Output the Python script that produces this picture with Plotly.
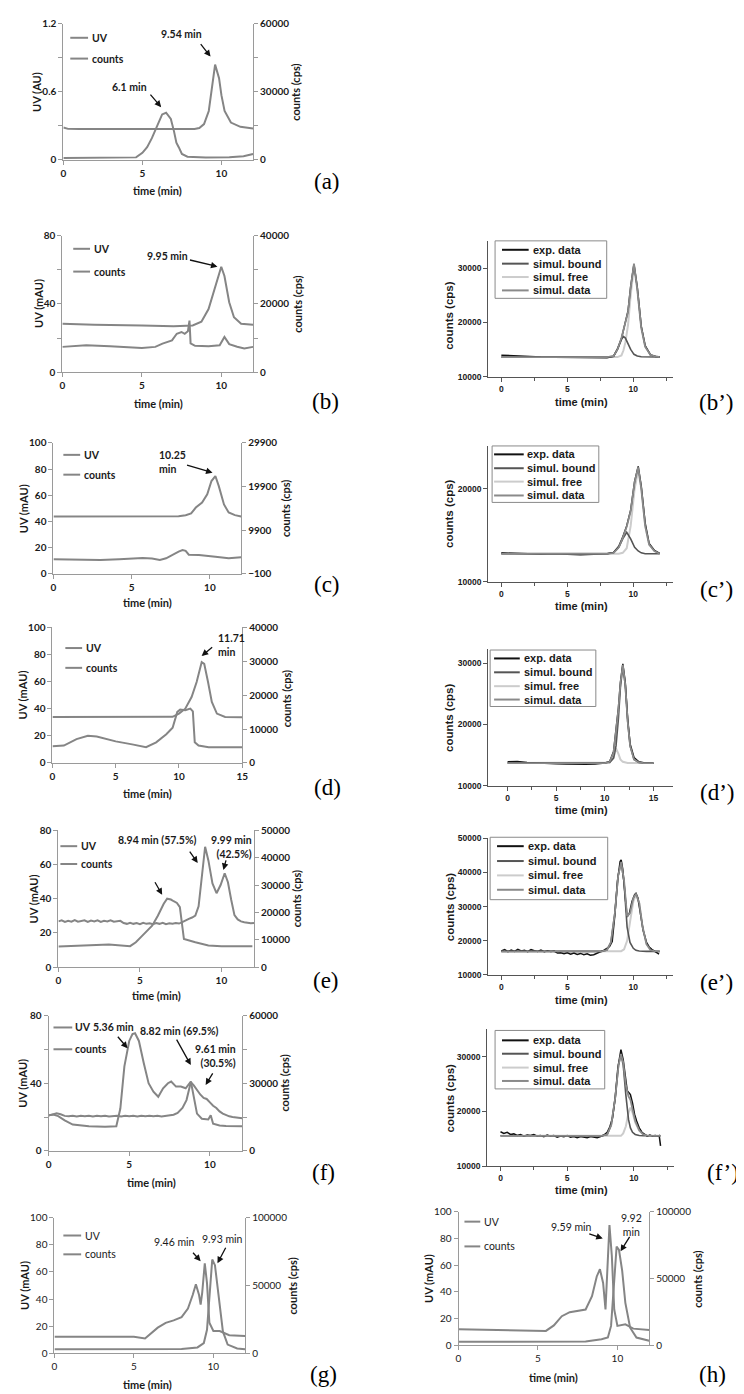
import plotly.graph_objects as go

W, H = 744, 1394
SANS = "Lato"
ARIAL = "Liberation Sans"
SERIF = "Liberation Serif"
GRAY = "#858585"
AX = "#9a9a9a"
AX2 = "#555555"
TXT = "#1a1a1a"

# ===================== DATA =====================
# (a)  UV in AU, counts in cps
a_uv_t = [0, 2, 4, 4.6, 5.0, 5.3, 5.6, 5.95, 6.25, 6.5, 6.8, 7.0, 7.15, 7.3, 7.5, 7.85, 9, 10.5, 11.4, 12]
a_uv = [0.015, 0.015, 0.015, 0.02, 0.06, 0.11, 0.19, 0.31, 0.40, 0.415, 0.36, 0.25, 0.15, 0.11, 0.05, 0.026, 0.02, 0.022, 0.03, 0.05]
a_cnt_t = [0, 0.3, 1, 4, 7, 8.3, 8.6, 8.9, 9.2, 9.4, 9.6, 9.85, 10.0, 10.2, 10.6, 11.2, 12]
a_cnt = [14200, 13600, 13500, 13400, 13400, 13500, 14000, 15700, 21500, 33000, 42000, 36000, 28500, 21500, 16400, 14500, 13800]

# (b)
b_uv_t = [0, 1.5, 3, 5, 5.85, 6.3, 6.9, 7.2, 7.5, 7.7, 7.9, 8.0, 8.07, 8.35, 9.2, 9.9, 10.2, 10.5, 11.0, 11.45, 12]
b_uv = [14.9, 15.8, 15.2, 14.3, 14.9, 16.8, 18.7, 22.6, 23.6, 22.5, 24, 30.3, 17, 15.5, 15.3, 15.8, 20.7, 16.5, 15, 14, 14.9]
b_cnt_t = [0, 2, 5, 7, 8.2, 8.75, 9.2, 9.5, 9.8, 10.0, 10.2, 10.5, 10.8, 11.25, 12]
b_cnt = [14200, 13900, 13700, 13500, 13700, 14800, 18500, 23400, 28200, 30900, 28200, 20500, 16100, 14200, 13900]

# (b')
bp_t = [0, 1, 2, 3, 4, 5, 6, 7, 8, 8.5, 8.8, 9.1, 9.25, 9.4, 9.6, 9.8, 10.05, 10.3, 10.6, 10.9, 11.3, 11.7, 12]
bp_bound = [13600, 13600, 13600, 13600, 13600, 13600, 13600, 13600, 13600, 13750, 15000, 16800, 17400, 17100, 16000, 15000, 14100, 13800, 13650, 13600, 13600, 13600, 13600]
bp_free = [13600, 13600, 13600, 13600, 13600, 13600, 13600, 13600, 13600, 13600, 13600, 13900, 14800, 16300, 19500, 25000, 30300, 26000, 19000, 15500, 14000, 13700, 13600]
bp_sim = [13600, 13600, 13600, 13600, 13600, 13600, 13600, 13600, 13600, 13750, 15000, 17100, 18600, 19800, 21900, 26400, 30800, 26200, 19050, 15500, 14000, 13700, 13600]
bp_exp = [13950, 13800, 13650, 13600, 13550, 13500, 13450, 13400, 13450, 13750, 15100, 17000, 18700, 19900, 22100, 26600, 30700, 26500, 19300, 15700, 14000, 13700, 13600]

# (c)
c_uv_t = [0, 1, 2, 3, 4.2, 5, 5.7, 6.3, 6.8, 7.2, 7.6, 8.0, 8.25, 8.45, 8.65, 9.3, 10.35, 11.2, 12]
c_uv = [11.1, 10.8, 10.6, 10.6, 11.1, 11.5, 12.0, 11.6, 10.6, 11.8, 14.6, 16.9, 18.1, 17.5, 14.6, 14.4, 13.0, 11.8, 12.6]
c_cnt_t = [0, 3, 6, 8.0, 8.45, 8.8, 9.1, 9.5, 9.83, 10.1, 10.35, 10.57, 10.9, 11.2, 11.6, 12]
c_cnt = [13040, 13000, 13000, 13100, 13340, 13730, 15080, 16220, 18140, 21170, 22310, 20000, 15800, 13940, 13340, 13040]

# (c')
cp_t = [0, 1, 2, 3, 4, 5, 6, 7, 8, 8.5, 8.9, 9.2, 9.5, 9.8, 10.1, 10.37, 10.6, 10.9, 11.2, 11.6, 12]
cp_bound = [13000, 13000, 13000, 13000, 13000, 13000, 13000, 13000, 13000, 13100, 13700, 14600, 15300, 14600, 13700, 13300, 13100, 13000, 13000, 13000, 13000]
cp_free = [13000, 13000, 13000, 13000, 13000, 13000, 13000, 13000, 13000, 13000, 13000, 13100, 13600, 16000, 20000, 22000, 20000, 16000, 14000, 13300, 13000]
cp_sim = [13000, 13000, 13000, 13000, 13000, 13000, 13000, 13000, 13000, 13100, 13700, 14700, 15900, 17600, 20700, 22300, 20100, 16000, 14000, 13300, 13000]
cp_exp = [13100, 13050, 13000, 12950, 13000, 12950, 12900, 12950, 13000, 13150, 13800, 14800, 16000, 17700, 20800, 22400, 20300, 16300, 14100, 13350, 13050]

# (d)
d_uv_t = [0, 0.9, 1.9, 2.8, 3.5, 5, 6.3, 7.4, 8.2, 9.0, 9.5, 9.87, 10.1, 10.5, 10.9, 11.1, 11.25, 11.55, 12.35, 15]
d_uv = [12.3, 12.8, 17.6, 20, 19.5, 15.9, 13.7, 11.6, 15.2, 21.2, 26, 37.6, 39.3, 38.8, 40, 38, 15.2, 12.8, 11.6, 11.6]
d_cnt_t = [0, 3, 7.1, 9.5, 10, 10.5, 11, 11.4, 11.8, 12, 12.3, 12.6, 13, 13.65, 15]
d_cnt = [13560, 13600, 13500, 13600, 14560, 16000, 19440, 23840, 29720, 29200, 23840, 18000, 14560, 13560, 13500]

# (d')
dp_t = [0, 1, 2, 3, 4, 5, 6, 7, 8, 9, 10, 10.5, 10.9, 11.15, 11.4, 11.6, 11.85, 12.1, 12.35, 12.6, 13, 13.5, 14, 15]
dp_bound = [13700, 13700, 13700, 13700, 13700, 13700, 13700, 13700, 13700, 13700, 13700, 13800, 14500, 16500, 21000, 26000, 29500, 26500, 20500, 16500, 14300, 13800, 13700, 13700]
dp_free = [13700, 13700, 13700, 13700, 13700, 13700, 13700, 13700, 13700, 13700, 13700, 13800, 14600, 16100, 15200, 14300, 13900, 13750, 13700, 13700, 13700, 13700, 13700, 13700]
dp_sim = [13700, 13700, 13700, 13700, 13700, 13700, 13700, 13700, 13700, 13700, 13700, 13900, 15400, 18900, 22500, 26600, 29700, 26550, 20500, 16500, 14300, 13800, 13700, 13700]
dp_exp = [13900, 13950, 13800, 13700, 13650, 13600, 13550, 13500, 13500, 13550, 13700, 13950, 15600, 19200, 22700, 26800, 29900, 26900, 20900, 16800, 14600, 13900, 13750, 13650]

# (e)
e_uv_t = [0, 1.5, 3.1, 4.4, 4.75, 5.15, 5.75, 6.1, 6.46, 6.67, 6.9, 7.07, 7.27, 7.45, 7.6, 7.7, 8.4, 9.2, 10, 11.9]
e_uv = [12, 12.5, 13.2, 12.2, 14.5, 18.4, 24.2, 30, 37, 40, 39.5, 38.5, 37.5, 35, 22, 16.4, 14.5, 12.6, 12.2, 12.2]
e_cnt_t = [0, 0.2, 0.4, 0.6, 0.8, 1.0, 1.2, 1.4, 1.6, 1.8, 2.0, 2.2, 2.4, 2.6, 2.8, 3.0, 3.2, 3.4, 3.6, 3.8,
           4.0, 4.2, 4.4, 4.6, 4.8, 5.0, 5.2, 5.4, 5.6, 5.8, 6.0, 6.2, 6.4, 6.6, 6.8, 7.0, 7.2, 7.4, 7.6,
           7.8, 8.0, 8.2, 8.4, 8.6, 8.8, 9.0, 9.2, 9.45, 9.7, 9.95, 10.2, 10.4, 10.6, 10.8, 11.0, 11.2, 11.4, 11.6, 11.8, 12.0]
e_cnt = [16700, 17100, 16500, 16900, 16600, 17200, 16600, 16900, 17100, 16500, 17000, 16700, 17100, 16500, 16900, 16700, 17100, 16600, 16800, 16900,
         16100, 15800, 16200, 15800, 16100, 15700, 16200, 15800, 16000, 15700, 16100, 15800, 16200, 15700, 16000, 15800, 16100, 15900, 16400,
         17100, 17600, 18100, 18800, 22200, 33000, 44000, 39000, 30600, 27000, 30000, 34300, 31000, 24600, 19000, 17400, 16700, 16400, 16200, 16000, 16100]

# (e')
ep_t = [0, 1, 2, 3, 4, 5, 6, 7, 7.6, 8.0, 8.3, 8.6, 8.85, 9.08, 9.3, 9.53, 9.75, 10.0, 10.2, 10.45, 10.7, 11.0, 11.3, 11.6, 12]
ep_bound = [16900, 16900, 16900, 16900, 16900, 16900, 16900, 16900, 16900, 17300, 19500, 28000, 39000, 43000, 37000, 24000, 19500, 17800, 17200, 17000, 16900, 16900, 16900, 16900, 16900]
ep_free = [16900, 16900, 16900, 16900, 16900, 16900, 16900, 16900, 16900, 16900, 16900, 16900, 16900, 16950, 17500, 20000, 25500, 31500, 33500, 31000, 24100, 19000, 17300, 16950, 16900]
ep_sim = [16900, 16900, 16900, 16900, 16900, 16900, 16900, 16900, 16900, 17300, 19500, 28000, 39000, 43050, 37600, 27100, 28100, 32400, 33800, 31100, 24100, 19000, 17300, 16950, 16900]
ep_exp_t = [0, 0.25, 0.5, 0.75, 1.0, 1.25, 1.5, 1.75, 2.0, 2.25, 2.5, 2.75, 3.0, 3.25, 3.5, 3.75, 4.0, 4.25, 4.5, 4.75,
            5.0, 5.25, 5.5, 5.75, 6.0, 6.25, 6.5, 6.75, 7.0, 7.25, 7.5,
            7.75, 8.0, 8.2, 8.4, 8.6, 8.8, 9.0, 9.08, 9.2, 9.35, 9.53, 9.7, 9.9, 10.1, 10.2, 10.35, 10.55, 10.75, 11.0, 11.2, 11.4, 11.6, 11.8, 11.95]
ep_exp = [17000, 17400, 16800, 17300, 16900, 17500, 17000, 17200, 16800, 17400, 17100, 16900, 17300, 16800, 17100, 16900, 17000, 16400, 16500, 16200,
          16500, 16100, 16400, 16000, 16300, 15900, 16200, 15800, 15900, 16300, 16600,
          17200, 17800, 18300, 19800, 27500, 37500, 43200, 43700, 41000, 34500, 27000, 28000, 31500, 33500, 33900, 32500, 28000, 23000, 19500, 18200, 17500, 17000, 16300, 16100]

# (f)
f_uv_t = [0, 0.3, 0.6, 1.0, 1.5, 2.5, 3.5, 4.2, 4.45, 4.7, 5.0, 5.2, 5.36, 5.6, 5.9, 6.2, 6.5, 6.8, 7.1, 7.4, 7.6, 7.9, 8.2, 8.5, 8.82, 9.0, 9.2, 9.5, 9.9, 10.05, 10.2, 10.6, 11, 12]
f_uv = [21, 21.5, 20.5, 18, 15.5, 14.5, 14.3, 14.5, 25, 50, 65, 69, 69.5, 65, 52, 40, 35, 32, 37, 40, 41, 38, 38, 37, 41, 33, 22, 19, 18.5, 21, 16, 15, 14.7, 14.5]
f_cnt_t = [0, 0.25, 0.5, 0.75, 1.0, 1.25, 1.5, 1.75, 2.0, 2.25, 2.5, 2.75, 3.0, 3.25, 3.5, 3.75, 4.0, 4.25, 4.5, 4.75,
           5.0, 5.25, 5.5, 5.75, 6.0, 6.25, 6.5, 6.75, 7.0, 7.25, 7.5,
           7.75, 8.0, 8.3, 8.55, 8.7, 8.82, 9.0, 9.2, 9.4, 9.61, 9.8, 10.0, 10.2, 10.4, 10.6, 10.8, 11.0, 11.2, 11.4, 11.6, 11.8, 12.0]
f_cnt = [15600, 16000, 16600, 16200, 15500, 15300, 15600, 15200, 15500, 15300, 15600, 15200, 15500, 15300, 15600, 15200, 15400, 15600, 15200, 15500,
         15300, 15600, 15200, 15500, 15300, 15600, 15300, 15500, 15200, 15500, 15600,
         16000, 16800, 19000, 22500, 26500, 30500, 29000, 27000, 25000, 23500, 23000, 21500, 20000, 19000, 17500, 16500, 15800, 15300, 15000, 14800, 14600, 14400]

# (f')
fp_t = [0, 1, 2, 3, 4, 5, 6, 7, 7.6, 8.0, 8.3, 8.6, 8.85, 9.03, 9.2, 9.4, 9.6, 9.74, 9.9, 10.1, 10.4, 10.7, 11, 11.5, 12]
fp_bound = [15550, 15550, 15550, 15550, 15550, 15550, 15550, 15550, 15550, 15800, 17500, 22500, 28500, 30500, 28500, 23000, 18500, 17000, 16200, 15800, 15600, 15550, 15550, 15550, 15550]
fp_free = [15550, 15550, 15550, 15550, 15550, 15550, 15550, 15550, 15550, 15550, 15550, 15550, 15550, 15550, 16000, 17300, 19800, 20700, 19800, 18000, 16500, 15800, 15600, 15550, 15550]
fp_sim = [15550, 15550, 15550, 15550, 15550, 15550, 15550, 15550, 15550, 15800, 17500, 22500, 28500, 30500, 28950, 24750, 22750, 22150, 20450, 18250, 16550, 15800, 15600, 15550, 15550]
fp_exp_t = [0, 0.25, 0.5, 0.75, 1.0, 1.25, 1.5, 1.75, 2.0, 2.25, 2.5, 2.75, 3.0, 3.25, 3.5, 3.75, 4.0, 4.25, 4.5, 4.75,
            5.0, 5.25, 5.5, 5.75, 6.0, 6.25, 6.5, 6.75, 7.0, 7.25, 7.5, 7.75,
            8.0, 8.2, 8.4, 8.6, 8.8, 9.03, 9.2, 9.35, 9.5, 9.6, 9.74, 9.9, 10.05, 10.2, 10.4, 10.6, 10.8, 11.0, 11.2, 11.4, 11.6, 11.8, 11.9, 11.95, 12.0]
fp_exp = [16300, 16000, 16200, 15800, 15900, 15600, 15800, 15500, 15700, 15600, 15800, 15500, 15600, 15400, 15700, 15500, 15600, 15300, 15500, 15400,
          15600, 15300, 15400, 15200, 15400, 15300, 15200, 15400, 15300, 15200, 15400, 15700,
          16200, 17200, 18800, 22500, 28000, 31300, 29500, 26000, 23800, 23500, 23100, 21500, 19500, 18300, 17000, 16200, 15800, 15500, 15700, 15500, 15600, 15500, 15600, 14500, 13700]

# (g)
g_uv_t = [0, 5, 5.7, 6.0, 6.5, 7, 7.5, 8, 8.4, 8.7, 8.9, 9.1, 9.2, 9.3, 9.46, 9.6, 9.75, 10, 10.4, 11, 12]
g_uv = [12.2, 12.2, 11, 14, 19, 22.5, 24.3, 26.7, 33, 43, 50.9, 43, 36, 45, 66.4, 51.8, 22.6, 16.5, 16.5, 13.4, 12.9]
g_cnt_t = [0, 5, 8, 9.0, 9.4, 9.6, 9.75, 9.93, 10.1, 10.35, 10.6, 10.9, 11.5, 12]
g_cnt = [3100, 3100, 3300, 4400, 7600, 17400, 41800, 69200, 65000, 41800, 16200, 6500, 3600, 3100]

# (h)
h_uv_t = [0, 5.5, 6, 6.5, 7, 7.5, 8, 8.4, 8.7, 8.9, 9.1, 9.25, 9.35, 9.5, 9.65, 9.8, 10, 10.5, 11, 12]
h_uv = [12.1, 10.9, 15, 21.9, 24.9, 25.7, 26.9, 36.8, 51.6, 57, 46.7, 26.9, 50, 90, 66.7, 26.9, 14.6, 15.8, 12.6, 11.6]
h_cnt_t = [0, 8, 9, 9.4, 9.6, 9.8, 9.95, 10.1, 10.3, 10.5, 10.8, 11.2, 12]
h_cnt = [2700, 3000, 4600, 6000, 14600, 46700, 73900, 71400, 56000, 31900, 13300, 5900, 3500]

legend_left = ["UV", "counts"]
legend_right = ["exp. data", "simul. bound", "simul. free", "simul. data"]

# ===================== LAYOUT HELPERS =====================
fig = go.Figure()
layout = {}
annotations = []
shapes = []


def aid(p, i):
    return p if i == 1 else f"{p}{i}"


def lkey(p, i):
    return f"{p}axis" if i == 1 else f"{p}axis{i}"


def xdom(x0, x1):
    return [x0 / W, x1 / W]


def ydom(y0, y1):
    return [1 - y1 / H, 1 - y0 / H]


def px(x, y):
    return x / W, 1 - y / H


def txt(s, x, y, size=10.5, bold=True, family=SANS, xanchor="center", align="center", angle=0, color=TXT):
    X, Y = px(x, y)
    annotations.append(dict(text=s, x=X, y=Y, xref="paper", yref="paper", showarrow=False,
                            xanchor=xanchor, yanchor="middle", align=align, textangle=angle,
                            font=dict(family=family, size=size, color=color,
                                      weight="bold" if bold else "normal")))


def arrow(xt, yt, xh, yh):
    X, Y = px(xh, yh)
    annotations.append(dict(text="", x=X, y=Y, xref="paper", yref="paper", ax=xt - xh, ay=yt - yh,
                            axref="pixel", ayref="pixel", showarrow=True, arrowhead=2, arrowsize=1,
                            arrowwidth=1.3, arrowcolor="#111", standoff=0))


def hline(x0, x1, y, color, width):
    X0, Y = px(x0, y)
    X1, _ = px(x1, y)
    shapes.append(dict(type="line", xref="paper", yref="paper", x0=X0, x1=X1, y0=Y, y1=Y,
                       line=dict(color=color, width=width)))


def left_panel(k, box, xr, yr, yd, ym, y2r, y2d, y2m, uv_t, uv, cnt_t, cnt, y2t0=0, bold=True):
    xi = k + 1
    yl = 2 * k + 1
    yr_i = 2 * k + 2
    x0, x1, y0, y1 = box
    tf = dict(family=SANS, size=10, color=TXT, weight="bold" if bold else "normal")
    common = dict(showline=True, linecolor=AX, linewidth=1, ticks="outside", ticklen=4, tickcolor=AX,
                  showgrid=False, zeroline=False, tickfont=tf)
    layout[lkey("x", xi)] = dict(domain=xdom(x0, x1), range=xr, anchor=aid("y", yl), dtick=5, tick0=0, **common)
    ya = dict(domain=ydom(y0, y1), range=yr, anchor=aid("x", xi), dtick=yd, tick0=0, **common)
    if ym:
        ya["minor"] = dict(dtick=ym, ticks="outside", ticklen=4, tickcolor=AX, showgrid=False)
    layout[lkey("y", yl)] = ya
    yb = dict(range=y2r, anchor=aid("x", xi), overlaying=aid("y", yl), side="right", dtick=y2d, tick0=y2t0,
              tickformat="d", **common)
    if y2m:
        yb["minor"] = dict(dtick=y2m, ticks="outside", ticklen=4, tickcolor=AX, showgrid=False)
    layout[lkey("y", yr_i)] = yb
    fig.add_trace(go.Scatter(x=uv_t, y=uv, name=legend_left[0], mode="lines", showlegend=False,
                             line=dict(color=GRAY, width=2), xaxis=aid("x", xi), yaxis=aid("y", yl)))
    fig.add_trace(go.Scatter(x=cnt_t, y=cnt, name=legend_left[1], mode="lines", showlegend=False,
                             line=dict(color=GRAY, width=2), xaxis=aid("x", xi), yaxis=aid("y", yr_i)))


RCOL = {"exp. data": "#111111", "simul. bound": "#555555", "simul. free": "#cccccc", "simul. data": "#8a8a8a"}
RW = {"exp. data": 1.5, "simul. bound": 1.6, "simul. free": 2, "simul. data": 1.8}


def right_panel(j, box, xr, yr, t, bound, free, sim, exp_t, exp):
    xi = 9 + j
    yi = 17 + j
    x0, x1, y0, y1 = box
    tf = dict(family=ARIAL, size=8.5, color=TXT, weight="bold")
    common = dict(showline=True, linecolor=AX2, linewidth=1, ticks="outside", ticklen=4, tickcolor=AX2,
                  showgrid=False, zeroline=False, tickfont=tf)
    layout[lkey("x", xi)] = dict(domain=xdom(x0, x1), range=xr, anchor=aid("y", yi), dtick=5, tick0=0,
                                 minor=dict(dtick=2.5, ticks="outside", ticklen=3, tickcolor=AX2, showgrid=False),
                                 **common)
    layout[lkey("y", yi)] = dict(domain=ydom(y0, y1), range=yr, anchor=aid("x", xi), dtick=10000, tick0=0,
                                 tickformat="d", **common)
    for name, xs, ys in [("simul. free", t, free), ("simul. bound", t, bound),
                         ("exp. data", exp_t, exp), ("simul. data", t, sim)]:
        fig.add_trace(go.Scatter(x=xs, y=ys, name=name, mode="lines", showlegend=False,
                                 line=dict(color=RCOL[name], width=RW[name]),
                                 xaxis=aid("x", xi), yaxis=aid("y", yi)))


def left_legend(x0, x1, ys, xt, size=10.5, bold=True):
    for y, lab in zip(ys, legend_left):
        hline(x0, x1, y, GRAY, 2)
        txt(lab, xt, y, size=size, bold=bold, xanchor="left")


def right_legend(bx0, bx1, by0, by1, lx0, lx1, ys, xt):
    X0, Y0 = px(bx0, by0)
    X1, Y1 = px(bx1, by1)
    shapes.append(dict(type="rect", xref="paper", yref="paper", x0=X0, x1=X1, y0=Y1, y1=Y0,
                       line=dict(color="#8a8a8a", width=1), fillcolor="rgba(255,255,255,0)"))
    for y, lab in zip(ys, legend_right):
        hline(lx0, lx1, y, RCOL[lab], 2)
        txt(lab, xt, y, size=11, family=ARIAL, xanchor="left")


# ===================== PANELS =====================
left_panel(0, (53, 245, 9, 146), [0, 12], [0, 1.2], 0.6, 0.3, [0, 60000], 30000, 15000, a_uv_t, a_uv, a_cnt_t, a_cnt)
left_panel(1, (52, 245, 222.7, 360.7), [0, 12], [0, 80], 40, 20, [0, 40000], 20000, 10000, b_uv_t, b_uv, b_cnt_t, b_cnt)
left_panel(2, (43, 233, 432, 564), [0, 12], [0, 100], 20, None, [-100, 29900], 10000, None, c_uv_t, c_uv, c_cnt_t, c_cnt, y2t0=-100)
left_panel(3, (42, 234, 618, 755), [0, 15], [0, 100], 20, None, [0, 40000], 10000, None, d_uv_t, d_uv, d_cnt_t, d_cnt)
left_panel(4, (48, 246, 823, 961), [0, 12], [0, 80], 20, None, [0, 50000], 10000, None, e_uv_t, e_uv, e_cnt_t, e_cnt)
left_panel(5, (38, 234, 1010, 1146.5), [0, 12], [0, 80], 40, 20, [0, 60000], 30000, 15000, f_uv_t, f_uv, f_cnt_t, f_cnt)
left_panel(6, (44, 237, 1214, 1351), [0, 12], [0, 100], 20, None, [0, 100000], 50000, None, g_uv_t, g_uv, g_cnt_t, g_cnt, bold=False)
left_panel(7, (453, 646, 1208, 1343), [0, 12], [0, 100], 20, None, [0, 100000], 50000, None, h_uv_t, h_uv, h_cnt_t, h_cnt, bold=False)

right_panel(0, (483, 670, 228, 365), [-1, 13], [10000, 35000], bp_t, bp_bound, bp_free, bp_sim, bp_t, bp_exp)
right_panel(1, (483, 670, 435, 572), [-1, 13], [10000, 24600], cp_t, cp_bound, cp_free, cp_sim, cp_t, cp_exp)
right_panel(2, (483, 670, 640, 778), [-2, 17], [10000, 32300], dp_t, dp_bound, dp_free, dp_sim, dp_t, dp_exp)
right_panel(3, (483, 670, 831, 969), [-1, 13], [10000, 50000], ep_t, ep_bound, ep_free, ep_sim, ep_exp_t, ep_exp)
right_panel(4, (482, 671, 1024, 1162), [-1, 13], [10000, 35000], fp_t, fp_bound, fp_free, fp_sim, fp_exp_t, fp_exp)

# legends
left_legend(60, 78, [23, 44], 80)
left_legend(63, 80, [236, 259], 82)
left_legend(53, 70, [444, 464], 72)
left_legend(55, 72, [639, 659], 74)
left_legend(50, 67, [839, 857], 69)
left_legend(43, 62, [1022, 1044], 63)
left_legend(53, 71, [1232, 1251], 73, bold=False)
left_legend(459, 475, [1218, 1243], 477, bold=False)

right_legend(490, 603, 228, 286, 497, 524, [237, 251, 264.5, 278], 526)
right_legend(487, 595, 435, 492, 489, 519, [443.5, 457.5, 471, 485], 520)
right_legend(485, 592, 641, 698, 489, 515, [649.5, 663.5, 677.5, 691], 517)
right_legend(485, 604, 830, 893, 492, 519, [839, 854, 868.5, 883], 521)
right_legend(490, 601, 1025, 1084, 497, 524, [1035, 1048.5, 1062.5, 1076], 526)

# axis titles (left panels)
for s, x, y in [("UV (AU)", 26, 78), ("UV (mAU)", 28, 291), ("UV (mAU)", 13, 498), ("UV (mAU)", 12, 686),
                ("UV (mAU)", 23, 892), ("UV (mAU)", 12, 1078), ("UV (mAU)", 13, 1282), ("UV (mAU)", 422, 1275)]:
    txt(s, x, y, size=11, angle=-90)
for x, y in [(288, 78), (290, 292), (278, 498), (279, 690), (289, 892), (277, 1078), (284, 1283), (694, 1276)]:
    txt("counts (cps)", x, y, size=11, angle=-90)
for x, y in [(148, 177), (149, 392), (138, 593), (138, 786), (147, 990), (142, 1178), (138, 1382), (549, 1375)]:
    txt("time (min)", x, y, size=11)
# axis titles (right panels)
for y in [303, 503, 709, 900, 1093]:
    txt("counts (cps)", 444, y, size=11.5, family=ARIAL, angle=-90)
for y in [391, 597, 802, 994, 1186]:
    txt("time (min)", 577, y, size=11, family=ARIAL)

# panel letters
for s, x, y in [("(a)", 320, 168), ("(b)", 318, 390), ("(c)", 320, 575), ("(d)", 320, 780), ("(e)", 319, 975),
                ("(f)", 316, 1168), ("(g)", 316, 1372), ("(h)", 710, 1372),
                ("(b\u2019)", 714, 391), ("(c\u2019)", 714, 580), ("(d\u2019)", 715, 785), ("(e\u2019)", 714, 977),
                ("(f\u2019)", 721, 1168)]:
    txt(s, x, y, size=23, bold=False, family=SERIF, color="#000")

# peak labels
txt("6.1 min", 120, 73)
txt("9.54 min", 173, 19)
txt("9.95 min", 158, 243)
txt("10.25<br>min", 148, 451, xanchor="left", align="left")
txt("11.71<br>min", 208, 636, xanchor="left", align="left")
txt("8.94 min (57.5%)", 148, 833)
txt("9.99 min<br>(42.5%)", 246, 840, xanchor="right", align="right")
txt("5.36 min", 104, 1022)
txt("8.82 min (69.5%)", 171, 1026)
txt("9.61 min<br>(30.5%)", 230, 1051, xanchor="right", align="right")
txt("9.46 min", 166, 1239, bold=False)
txt("9.93 min", 214, 1236, bold=False)
txt("9.59 min", 567, 1223, bold=False)
txt("9.92<br>min", 628, 1221, bold=False)

# arrows
for a in [(140, 79, 152, 93), (191, 28, 202, 42), (180, 247, 209, 254), (177, 454, 204, 462),
          (205, 637, 193, 647), (180, 843, 189, 856), (218, 852, 215, 863), (145, 874, 153, 888),
          (107, 1030, 118, 1043), (167, 1033, 182, 1060), (205, 1067, 197, 1080),
          (183, 1248, 192, 1258), (218, 1243, 209, 1260), (584, 1230, 599, 1235), (627, 1232, 617, 1248)]:
    arrow(*a)

fig.update_layout(width=W, height=H, margin=dict(l=0, r=0, t=0, b=0), paper_bgcolor="white",
                  plot_bgcolor="rgba(0,0,0,0)", showlegend=False, annotations=annotations, shapes=shapes,
                  **layout)
fig.write_html("out.html")
